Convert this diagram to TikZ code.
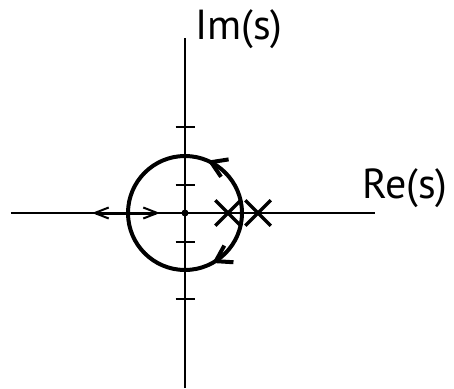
\documentclass[tikz,border=0pt]{standalone}
\usepackage{fontspec}
\setsansfont{PT Sans}
\usetikzlibrary{arrows.meta,decorations.markings,shapes.misc}

\begin{document}
\begin{tikzpicture}[x=1pt, y=1pt,
    axis/.style={line width=2pt},
    locus/.style={line width=4pt},
    branch/.style={line width=3pt, -{Straight Barb[length=14pt, width=11pt, line width=2pt]}},
    pole/.style={draw, cross out, line width=3.5pt, minimum size=22pt, inner sep=0pt},
    lbl/.style={font=\sffamily\fontsize{42}{46}\selectfont, inner sep=0pt, anchor=base west}]
    \useasboundingbox (-185,-175) rectangle (269,213);
    % axes and ticks
    \coordinate (o) at (0,0);
    \coordinate (xl) at (-174,0); \coordinate (xr) at (190,0);
    \coordinate (yt) at (0,175); \coordinate (yb) at (0,-175);
    \draw[axis] (xl) -- (xr);
    \draw[axis] (yb) -- (yt);
    \foreach \k in {-3,-2,-1,1,2,3}
        \draw[axis] (-9.5,28.5*\k) -- (9.5,28.5*\k);
    \node[lbl] (im) at (10,173) {Im(s)};
    \node[lbl] (re) at (177,15) {Re(s)};
    % root locus
    \draw[locus, postaction={decorate}, decoration={markings,
        mark=at position 0.185 with {\arrow{Straight Barb[length=15pt, width=19pt]}},
        mark=at position 0.83 with {\arrowreversed{Straight Barb[length=15pt, width=19pt]}}}]
        (o) circle[radius=57];
    \coordinate (brk) at (-57,0);
    \coordinate (al) at (-93,0); \coordinate (ar) at (-25,0);
    \draw[branch] (brk) -- (al);
    \draw[branch] (brk) -- (ar);
    \node[circle, fill, inner sep=0pt, minimum size=7pt] (dot) at (o) {};
    \node[pole] (p1) at (43,0) {};
    \node[pole] (p2) at (73,0) {};
\end{tikzpicture}
\end{document}
